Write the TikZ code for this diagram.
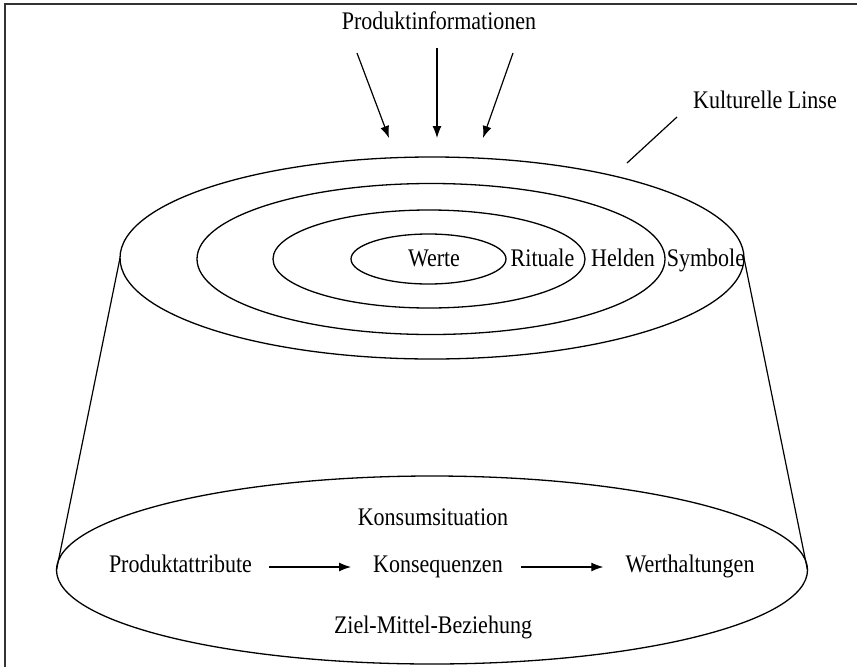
\documentclass[tikz,border=0pt]{standalone}
\usepackage{graphicx}
\usepackage{fontspec}
\setmainfont{Liberation Serif}
\usetikzlibrary{arrows.meta,shapes.geometric}
\newcommand{\talltext}[1]{\scalebox{1}[1.15]{#1}}
\begin{document}
\begin{tikzpicture}[x=1pt,y=-1pt,
  font=\fontsize{22}{26}\selectfont,
  ring/.style={draw, ellipse, line width=1.3pt, inner sep=0pt, outer sep=0pt},
  lbl/.style={anchor=base, inner sep=0pt, text height=15pt, text depth=5pt},
  arr/.style={-{Latex[length=12pt,width=9pt]}, line width=1.2pt},
  plain/.style={line width=1.2pt}]
\useasboundingbox (0,0) rectangle (857,667);
% frame (only top and left edges visible)
\draw[line width=2pt, black!80] (857,4) -- (5,4) -- (5,667);

% top lens: concentric ellipses
\node[ring, minimum width=624pt, minimum height=202pt] (outer) at (432,258) {};
\node[ring, minimum width=468pt, minimum height=151pt] (second) at (431,259) {};
\node[ring, minimum width=312pt, minimum height=98pt] (third) at (429,259) {};
\node[ring, minimum width=155pt, minimum height=50pt] (inner) at (428.5,259) {};

% bottom ellipse
\node[ring, minimum width=751pt, minimum height=188pt] (base) at (432,570) {};

% sides of the truncated cone
\draw[plain] (outer.west) -- (base.west);
\draw[plain] (outer.east) -- (base.east);

% ring labels
\node[lbl] (werte) at (434,266) {\talltext{Werte}};
\node[lbl] (rituale) at (542.5,266) {\talltext{Rituale}};
\node[lbl] (helden) at (623,266) {\talltext{Helden}};
\node[lbl] (symbole) at (706,266) {\talltext{Symbole}};

% top labels
\node[lbl] (pinfo) at (439,29) {\talltext{Produktinformationen}};
\node[lbl] (linse) at (765,108) {\talltext{Kulturelle Linse}};

% incoming arrows
\coordinate (a1s) at (357,53);
\coordinate (a1e) at (389,138);
\coordinate (a2s) at (437,48);
\coordinate (a2e) at (437,138);
\coordinate (a3s) at (513,53);
\coordinate (a3e) at (483,138);
\draw[arr] (a1s) -- (a1e);
\draw[arr] (a2s) -- (a2e);
\draw[arr] (a3s) -- (a3e);

% pointer line to the lens
\coordinate (l1) at (627,163);
\coordinate (l2) at (677,117);
\draw[plain] (l1) -- (l2);

% bottom labels
\node[lbl] (konsum) at (433,525) {\talltext{Konsumsituation}};
\node[lbl] (pa) at (180.5,572) {\talltext{Produktattribute}};
\node[lbl] (ko) at (438,572) {\talltext{Konsequenzen}};
\node[lbl] (wh) at (690,572) {\talltext{Werthaltungen}};
\node[lbl] (zm) at (433,633) {\talltext{Ziel-Mittel-Beziehung}};

\draw[arr, shorten <=17pt, shorten >=22pt] (pa) -- (ko);
\draw[arr, shorten <=18pt, shorten >=22pt] (ko) -- (wh);
\end{tikzpicture}
\end{document}
